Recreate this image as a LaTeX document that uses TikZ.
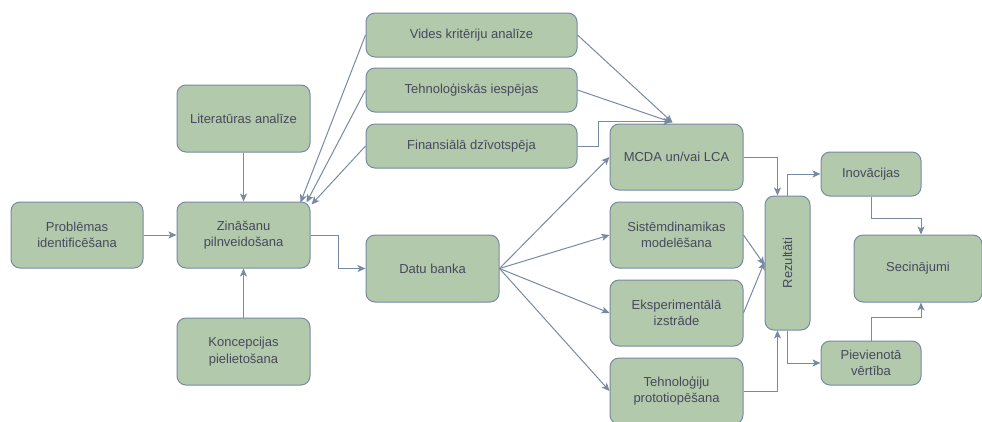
\documentclass[tikz,border=0pt]{standalone}
\usepackage{fontspec}
\setmainfont{Liberation Sans}
\usetikzlibrary{arrows.meta,calc}
\definecolor{boxfill}{HTML}{B2C9AB}
\definecolor{boxline}{HTML}{788AA3}
\definecolor{boxtext}{HTML}{46495D}
\tikzset{
  box/.style={draw=boxline, fill=boxfill, line width=1pt, rounded corners=9pt,
    text=boxtext, align=center, inner sep=2pt,
    font=\fontsize{13}{16.5}\selectfont},
  conn/.style={draw=boxline, line width=1pt,
    -{Stealth[length=8pt,width=7pt,inset=2pt]}}
}
\begin{document}
\begin{tikzpicture}[x=1pt,y=-1pt]
\useasboundingbox (0,0) rectangle (982,421);
\clip (0,0) rectangle (982,421);
\fill[white] (0,0) rectangle (982,421);

\node[box, minimum width=133pt, minimum height=67pt] (lit) at (243.5,118.5) {Literatūras analīze};
\node[box, minimum width=132pt, minimum height=66pt] (prob) at (77,235) {Problēmas\\identificēšana};
\node[box, minimum width=133pt, minimum height=66pt] (zin) at (243.5,235) {Zināšanu\\pilnveidošana};
\node[box, minimum width=133pt, minimum height=67pt] (konc) at (243.5,351.5) {Koncepcijas\\pielietošana};

\node[box, minimum width=211pt, minimum height=44pt] (vides) at (471.5,35) {Vides kritēriju analīze};
\node[box, minimum width=211pt, minimum height=44pt] (tehn) at (471.5,90) {Tehnoloģiskās iespējas};
\node[box, minimum width=211pt, minimum height=44pt] (fin) at (471.5,146) {Finansiālā dzīvotspēja};
\node[box, minimum width=133pt, minimum height=67pt] (datu) at (432.5,268.5) {Datu banka};

\node[box, minimum width=133pt, minimum height=66pt] (mcda) at (676.5,157) {MCDA un/vai LCA};
\node[box, minimum width=133pt, minimum height=66pt] (sist) at (676.5,235) {Sistēmdinamikas\\modelēšana};
\node[box, minimum width=133pt, minimum height=66pt] (eksp) at (676.5,313) {Eksperimentālā\\izstrāde};
\node[box, minimum width=133pt, minimum height=66pt] (proto) at (676.5,391) {Tehnoloģiju\\prototiopēšana};

\node[box, minimum width=134pt, minimum height=45pt, rotate=90] (rez) at (787.5,263) {Rezultāti};
\node[box, minimum width=100pt, minimum height=44pt] (inov) at (871,174) {Inovācijas};
\node[box, minimum width=128pt, minimum height=67pt] (secin) at (918,268.5) {Secinājumi};
\node[box, minimum width=100pt, minimum height=44pt] (piev) at (871,363) {Pievienotā\\vērtība};

% left part
\draw[conn] (lit.south) -- (zin.north);
\draw[conn] (konc.north) -- (zin.south);
\draw[conn] (prob.east) -- (zin.west);
\draw[conn] (zin.east) -- ++(28,0) |- (datu.west);

% criteria to knowledge
\draw[conn] (vides.west) -- ([xshift=-10pt,yshift=-1pt]zin.north east);
\draw[conn] (tehn.west) -- ([xshift=-4pt,yshift=-1pt]zin.north east);
\draw[conn] (fin.west) -- ([xshift=1pt,yshift=-3pt]zin.north east);

% criteria to MCDA
\draw[conn] (vides.east) -- ([xshift=-4pt,yshift=1pt]mcda.north);
\draw[conn] (tehn.east) -- ([xshift=-4pt,yshift=1pt]mcda.north);
\draw[conn] (fin.east) -- ++(21,0) |- ([xshift=-5pt,yshift=2pt]mcda.north);

% data bank fan-out
\draw[conn] (datu.east) -- (mcda.west);
\draw[conn] (datu.east) -- (sist.west);
\draw[conn] (datu.east) -- (eksp.west);
\draw[conn] (datu.east) -- (proto.west);

% methods to results
\draw[conn] (mcda.east) -| ([xshift=-10pt]rez.east);
\draw[conn] (sist.east) -- ([yshift=-2pt]rez.north);
\draw[conn] (eksp.east) -- ([yshift=1pt]rez.north);
\draw[conn] (proto.east) -| ([xshift=-10pt]rez.west);

% results to outcomes
\draw[conn] (rez.east) |- (inov.west);
\draw[conn] (rez.west) |- (piev.west);
\draw[conn] (inov.south) -- ++(0,22) -| ([xshift=3pt]secin.north);
\draw[conn] (piev.north) -- ++(0,-23) -| ([xshift=3pt]secin.south);
\end{tikzpicture}
\end{document}
